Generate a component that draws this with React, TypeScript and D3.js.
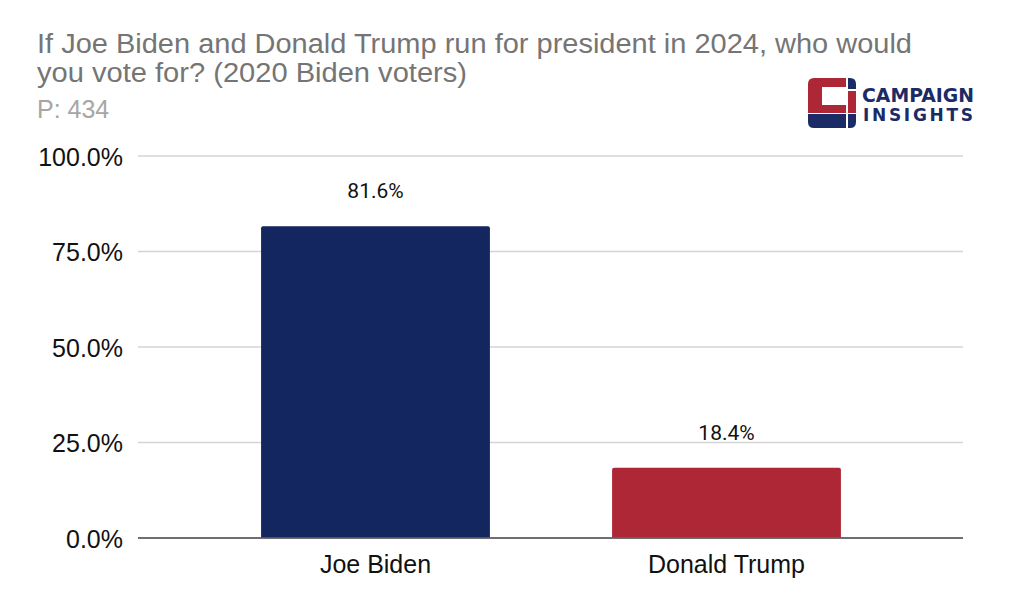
import React from "react";
import * as d3 from "d3";

const categories = ["Joe Biden", "Donald Trump"];
const values = [81.6, 18.4];
const barColors = ["#13265f", "#ad2737"];
const yTicks = [0, 25, 50, 75, 100];
const titleLines = [
  "If Joe Biden and Donald Trump run for president in 2024, who would",
  "you vote for? (2020 Biden voters)",
];
const titleWidths = [875, 430];
const subtitle = "P: 434";

export default function App() {
  const W = 1024;
  const H = 609;
  const gridLeft = 138;
  const gridRight = 963;
  const y = d3.scaleLinear().domain([0, 100]).range([538, 156]);
  const x = d3
    .scaleBand<string>()
    .domain(categories)
    .range([200, 902])
    .paddingInner(0.348)
    .paddingOuter(0.174);
  const fmt = (v: number) => v.toFixed(1) + "%";
  const navy = "#1b2b66";
  const red = "#ad2737";

  return (
    <svg
      width={W}
      height={H}
      style={{ position: "absolute", left: 0, top: 0, background: "#fff" }}
      fontFamily="'Liberation Sans', Arial, sans-serif"
    >
      <rect width={W} height={H} fill="#fff" />
      {titleLines.map((t, i) => (
        <text
          key={i}
          x={37}
          y={53 + i * 29}
          fontSize={27}
          fill="#757575"
          textLength={titleWidths[i]}
          lengthAdjust="spacingAndGlyphs"
        >
          {t}
        </text>
      ))}
      <text x={37} y={118} fontSize={25} fill="#a6a6a6">
        {subtitle}
      </text>

      {/* logo */}
      <g>
        <path
          d="M808,113 L808,84 Q808,78 814,78 L846,78 L846,87 L822,87 L822,105 L846,105 L846,113 Z"
          fill={red}
        />
        <path d="M808,114 L846,114 L846,128 L814,128 Q808,128 808,122 Z" fill={navy} />
        <path d="M848,78 L850,78 Q856,78 856,84 L856,89 L848,89 Z" fill={navy} />
        <path d="M848,91 L856,91 L856,113 L848,113 Z" fill={red} />
        <path d="M848,114 L856,114 L856,122 Q856,128 850,128 L848,128 Z" fill={navy} />
        <text
          x={862}
          y={102}
          fontSize={19}
          fontWeight="bold"
          fill={navy}
          textLength={112}
          lengthAdjust="spacingAndGlyphs"
          fontFamily="'DejaVu Sans', sans-serif"
        >
          CAMPAIGN
        </text>
        <text
          x={863}
          y={121}
          fontSize={17}
          fontWeight="bold"
          fill={navy}
          textLength={110}
          lengthAdjust="spacing"
          fontFamily="'DejaVu Sans', sans-serif"
        >
          INSIGHTS
        </text>
      </g>

      {/* gridlines */}
      {yTicks.map((t) => (
        <line
          key={t}
          x1={gridLeft}
          x2={gridRight}
          y1={y(t)}
          y2={y(t)}
          stroke={t === 0 ? "#666" : "#d4d4d4"}
          strokeWidth={1.5}
        />
      ))}
      {yTicks.map((t) => (
        <text
          key={"l" + t}
          x={123}
          y={y(t) + 9.5}
          fontSize={25}
          textAnchor="end"
          fill="#111"
        >
          {t.toFixed(1) + "%"}
        </text>
      ))}

      {/* bars */}
      {categories.map((c, i) => (
        <g key={c}>
          <path
            d={(() => {
              const x0 = x(c)!;
              const x1 = x0 + x.bandwidth();
              const top = y(values[i]);
              const b = y(0);
              const r = 2;
              return `M${x0},${b} L${x0},${top + r} Q${x0},${top} ${x0 + r},${top} L${x1 - r},${top} Q${x1},${top} ${x1},${top + r} L${x1},${b} Z`;
            })()}
            fill={barColors[i]}
          />
          <text
            x={x(c)! + x.bandwidth() / 2}
            y={y(values[i]) - 28}
            fontSize={21}
            textAnchor="middle"
            fill="#111"
            fontFamily="Roboto, sans-serif"
          >
            {fmt(values[i])}
          </text>
          <text
            x={x(c)! + x.bandwidth() / 2}
            y={573}
            fontSize={25}
            textAnchor="middle"
            fill="#111"
          >
            {c}
          </text>
        </g>
      ))}
      <line x1={gridLeft} x2={gridRight} y1={y(0)} y2={y(0)} stroke="#666" strokeWidth={1.5} />
    </svg>
  );
}
